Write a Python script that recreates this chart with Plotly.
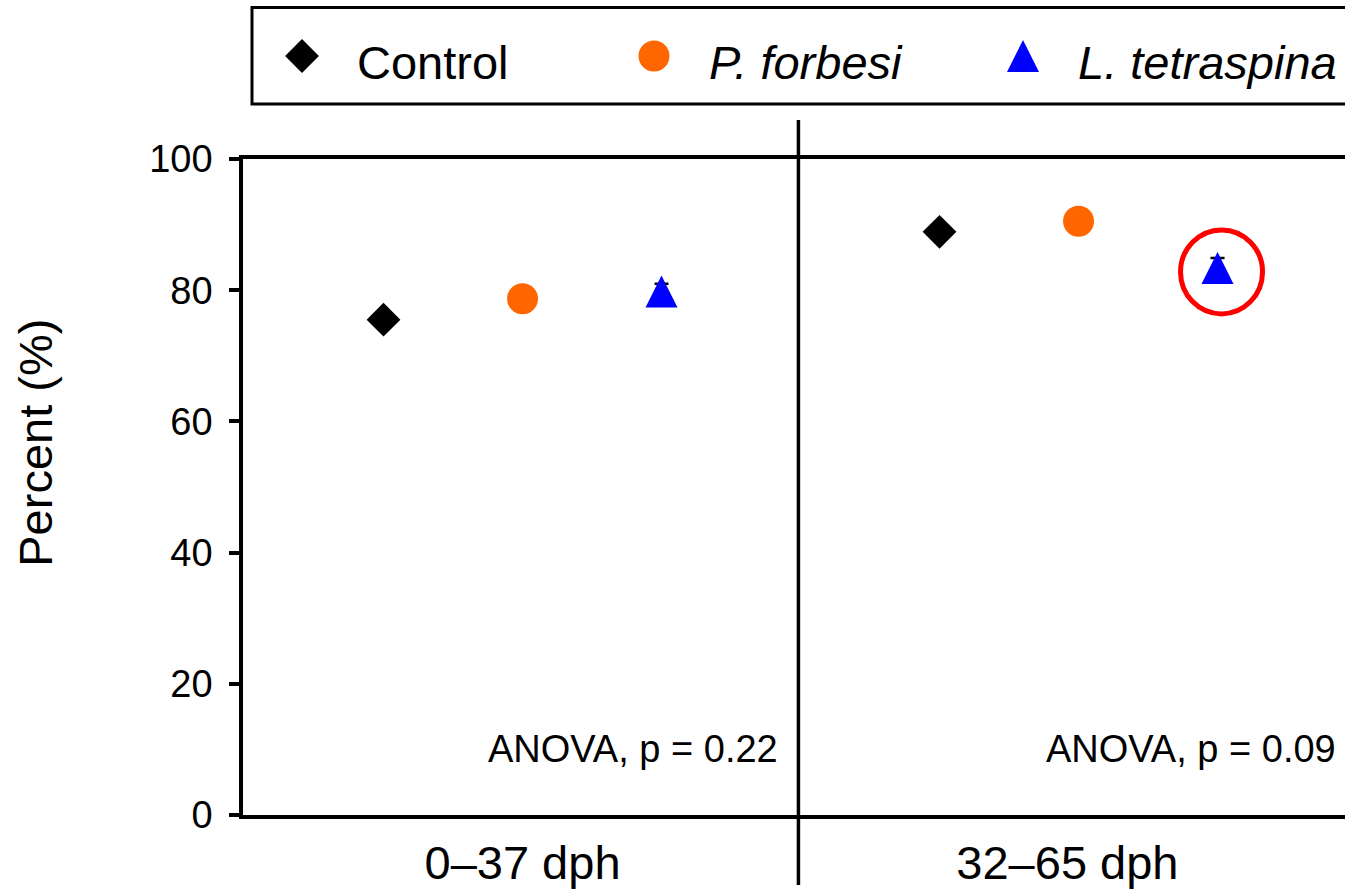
import plotly.graph_objects as go

# ---- data ----
GROUPS = ["0–37 dph", "32–65 dph"]
SERIES = ["Control", "P. forbesi", "L. tetraspina"]
CONTROL = [75.5, 88.9]
P_FORBESI = [78.7, 90.5]
L_TETRASPINA = [79.8, 83.4]
CONTROL_SE = [1.0, 1.0]
P_FORBESI_SE = [1.2, 1.8]
L_TETRASPINA_SE = [1.2, 1.5]
ANOVA_P = ["0.22", "0.09"]
Y_TICKS = [0, 20, 40, 60, 80, 100]

VALUES = [CONTROL, P_FORBESI, L_TETRASPINA]
ERRORS = [CONTROL_SE, P_FORBESI_SE, L_TETRASPINA_SE]

# ---- styles ----
FONT = "Liberation Sans, Arial, sans-serif"
COLORS = ["#000000", "#FF6600", "#0000FF"]
SYMBOLS = ["diamond", "circle", "arrow-down"]
SIZES = [26, 31, 32]
ANGLES = [0, 0, 180]
STANDOFFS = [0, 0, 16]
LABELS_HTML = ["Control", "<i>P. forbesi</i>", "<i>L. tetraspina</i>"]

fig = go.Figure()

for i, name in enumerate(SERIES):
    xs = [g * 4 + i + 1 for g in range(len(GROUPS))]
    fig.add_trace(go.Scatter(
        x=xs, y=VALUES[i], mode="markers", name=name, showlegend=False,
        cliponaxis=False, opacity=1,
        marker=dict(symbol=SYMBOLS[i], size=SIZES[i], color=COLORS[i],
                    angle=ANGLES[i], standoff=STANDOFFS[i], opacity=1,
                    line=dict(width=0)),
        error_y=dict(type="data", array=ERRORS[i], color="black",
                     thickness=2.5, width=7),
    ))

# custom legend (drawn on an overlay axis measured in pixels)
LEG_X = [302, 654, 1023]
LEG_TEXT_X = [355, 707, 1076]
for i, name in enumerate(SERIES):
    fig.add_trace(go.Scatter(
        x=[LEG_X[i]], y=[56], xaxis="x2", yaxis="y2", mode="markers",
        name=name, showlegend=False, hoverinfo="skip", cliponaxis=False,
        opacity=1,
        marker=dict(symbol=SYMBOLS[i], size=SIZES[i], color=COLORS[i],
                    angle=ANGLES[i], standoff=STANDOFFS[i], opacity=1,
                    line=dict(width=0)),
    ))

annotations = []
for tx, lab in zip(LEG_TEXT_X, LABELS_HTML):
    annotations.append(dict(x=tx, y=62, xref="x2", yref="y2", text=lab,
                            showarrow=False, xanchor="left", yanchor="middle",
                            font=dict(family=FONT, size=47, color="black")))

for gx, p in zip([3.855, 7.87], ANOVA_P):
    annotations.append(dict(x=gx, y=10, xref="x", yref="y",
                            text=f"ANOVA, p = {p}", showarrow=False,
                            xanchor="right", yanchor="middle",
                            font=dict(family=FONT, size=38, color="black")))

annotations.append(dict(x=-0.189, y=0.4564, xref="paper", yref="paper",
                        text="Percent (%)", textangle=-90, showarrow=False,
                        xanchor="center", yanchor="middle",
                        font=dict(family=FONT, size=47, color="black")))

shapes = [
    # legend frame
    dict(type="rect", xref="x2", yref="y2", x0=252, x1=1420, y0=7.5, y1=104,
         line=dict(color="black", width=3), fillcolor="rgba(0,0,0,0)",
         layer="below"),
    # panel divider
    dict(type="line", xref="x", yref="paper", x0=3.985, x1=3.985,
         y0=-0.0859, y1=0.8528, line=dict(color="black", width=3.5)),
    # highlight circle
    dict(type="circle", xref="x", yref="y", xsizemode="pixel", ysizemode="pixel",
         xanchor=7, yanchor=L_TETRASPINA[1], x0=-37, x1=45, y0=-46, y1=38,
         line=dict(color="#FF0000", width=5)),
]

fig.update_layout(
    template="none",
    width=1345, height=890,
    margin=dict(l=243, r=0, t=0, b=75, pad=0, autoexpand=False),
    paper_bgcolor="white", plot_bgcolor="white",
    font=dict(family=FONT, color="black"),
    showlegend=False,
    xaxis=dict(domain=[0, 1], range=[-0.0108, 7.917], showline=True,
               linewidth=3.5, linecolor="black", mirror=True, ticks="",
               tickvals=[2, 5.92], ticktext=GROUPS, showgrid=False,
               zeroline=False, automargin=False, ticklabelstandoff=4,
               tickfont=dict(size=47, family=FONT, color="black")),
    yaxis=dict(domain=[0, 0.80491], range=[0, 100], showline=True,
               linewidth=3.5, linecolor="black", ticks="outside", ticklen=10,
               tickwidth=3.5, tickcolor="black", tickvals=Y_TICKS,
               showgrid=False, zeroline=False, automargin=False,
               ticklabelstandoff=9,
               tickfont=dict(size=38, family=FONT, color="black")),
    xaxis2=dict(domain=[0, 1], anchor="y2", range=[243, 1345], visible=False,
                automargin=False),
    yaxis2=dict(domain=[0.81, 1], anchor="x2", range=[154.85, 0], visible=False,
                automargin=False),
    annotations=annotations,
    shapes=shapes,
)

fig.write_html("out.html", config={"displayModeBar": False},
               post_script="document.body.style.margin='0';document.body.style.overflow='hidden';")
